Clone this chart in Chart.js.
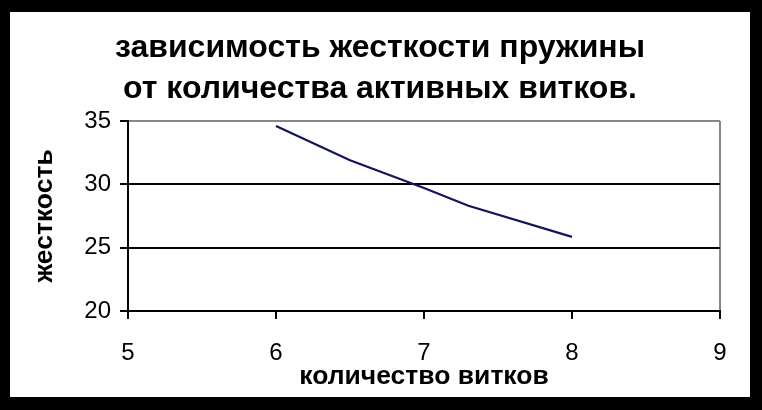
<!DOCTYPE html>
<html>
<head>
<meta charset="utf-8">
<script src="https://cdn.jsdelivr.net/npm/chart.js@4/dist/chart.umd.min.js"></script>
<style>
  html, body { margin: 0; padding: 0; background: #000; }
  #frame { position: absolute; left: 10px; top: 12px; width: 740px; height: 385px; background: #fff; }
</style>
</head>
<body>
<div id="frame"><canvas id="chart"></canvas></div>
<script>
// витки -> жесткость
const turns = [6, 6.5, 7, 7.3, 8];
const stiffness = [34.6, 31.9, 29.7, 28.3, 25.85];
const xTicks = [5, 6, 7, 8, 9];
const yTicks = [20, 25, 30, 35];
const titleLines = ["зависимость жесткости пружины", "от количества активных витков."];

const points = turns.map((t, i) => ({ x: t, y: stiffness[i] }));

new Chart(document.getElementById("chart"), {
  type: "scatter",
  data: {
    datasets: [{
      data: points,
      showLine: true,
      borderColor: "#14145c",
      borderWidth: 2.2,
      pointRadius: 0,
      tension: 0
    }]
  },
  options: {
    responsive: true,
    maintainAspectRatio: false,
    animation: false,
    layout: { padding: 0 },
    plugins: {
      legend: { display: false },
      tooltip: { enabled: false },
      title: {
        display: true,
        text: titleLines,
        color: "#000",
        font: { family: "Liberation Sans", size: 32, weight: "bold", lineHeight: 1.28 },
        padding: { top: 16, bottom: 11 }
      }
    },
    scales: {
      x: {
        type: "linear",
        min: 5, max: 9,
        afterBuildTicks: s => { s.ticks = xTicks.map(v => ({ value: v })); },
        afterFit: s => { s.height = 86; },
        ticks: { color: "#000", font: { family: "Liberation Sans", size: 24 }, padding: 20 },
        grid: {
          color: c => c.tick && c.tick.value === 9 ? "#888" : "rgba(0,0,0,0)",
          tickColor: "#000",
          tickLength: 8,
          lineWidth: 2
        },
        border: { color: "#000", width: 2 },
        title: {
          display: true,
          text: "количество витков",
          color: "#000",
          font: { family: "Liberation Sans", size: 26.5, weight: "bold" },
          padding: { top: 0, bottom: 4 }
        }
      },
      y: {
        min: 20, max: 35,
        afterBuildTicks: s => { s.ticks = yTicks.map(v => ({ value: v })); },
        afterFit: s => { s.width = 118; },
        ticks: { color: "#000", font: { family: "Liberation Sans", size: 24 }, padding: 9 },
        grid: {
          color: c => c.tick && c.tick.value === 35 ? "#888" : "#000",
          tickColor: "#000",
          tickLength: 8,
          lineWidth: 2
        },
        border: { color: "#000", width: 2 },
        title: {
          display: true,
          text: "жесткость",
          color: "#000",
          font: { family: "Liberation Sans", size: 26.5, weight: "bold" },
          padding: { top: 19, bottom: 0 }
        }
      },
      // пустая ось справа - только отступ
      right: {
        position: "right",
        display: true,
        afterFit: s => { s.width = 30; },
        ticks: { display: false },
        grid: { display: false, drawOnChartArea: false },
        border: { display: false }
      }
    }
  }
});
</script>
</body>
</html>
